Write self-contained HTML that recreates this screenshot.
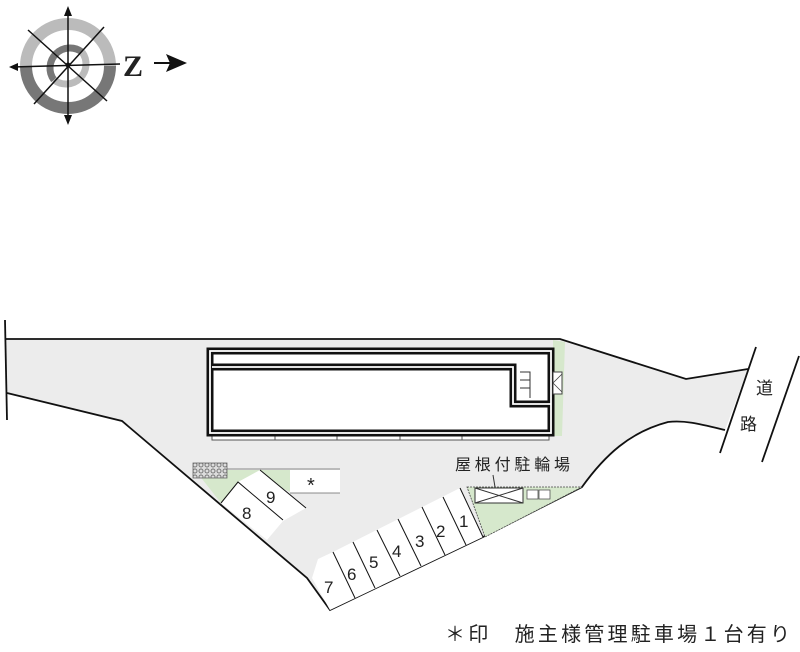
<!DOCTYPE html>
<html><head><meta charset="utf-8"><style>
html,body{margin:0;padding:0;background:#fff;}
svg{display:block;font-family:"Liberation Sans","Noto Sans CJK JP",sans-serif;}
</style></head><body>
<svg width="800" height="652" viewBox="0 0 800 652" xmlns="http://www.w3.org/2000/svg">
<defs>
<pattern id="hatch" width="6" height="6" patternUnits="userSpaceOnUse">
<rect width="6" height="6" fill="#ddd"/><circle cx="3" cy="3" r="2" fill="none" stroke="#777" stroke-width="1"/>
</pattern>
</defs>
<!-- compass -->
<g>
<path d="M26,66 A42,42 0 0 1 110,66" fill="none" stroke="#bbb" stroke-width="12"/>
<path d="M26,66 A42,42 0 0 0 110,66" fill="none" stroke="#777" stroke-width="12"/>
<path d="M54,80 A20,20 0 0 1 82,52" fill="none" stroke="#777" stroke-width="7"/>
<path d="M54,80 A20,20 0 0 0 82,52" fill="none" stroke="#bbb" stroke-width="7"/>
<g stroke="#111" stroke-width="1.5">
<line x1="68" y1="10" x2="68" y2="122"/>
<line x1="12" y1="67" x2="120" y2="64"/>
<line x1="28" y1="30" x2="107" y2="101"/>
<line x1="104" y1="27" x2="34" y2="104"/>
</g>
<polygon points="68,6 64,16 72,16" fill="#111"/>
<polygon points="68,125 64,115 72,115" fill="#111"/>
<polygon points="9,67 18,63 18,71" fill="#111"/>
<circle cx="68" cy="65" r="2.5" fill="#111"/>
<text x="123" y="76" font-family="Liberation Serif,serif" font-weight="bold" font-size="30" fill="#222">Z</text>
<line x1="154" y1="63" x2="172" y2="63" stroke="#111" stroke-width="2"/>
<polygon points="187,63 166,54 170,63 166,72" fill="#111"/>
</g>
<!-- lot -->
<path d="M5,339 L560,339 L686,379 L748,369 L725,430 C700,424 685,420 668,422 C630,432 605,455 582,487 L483,537 L330,610 L307,578 L122,421 L7,393 Z" fill="#ececec"/>
<path d="M5,339 L560,339 L686,379 L748,369 M725,430 C700,424 685,420 668,422 C630,432 605,455 582,487 L483,537 L330,610 L307,578 L122,421 L7,393" fill="none" stroke="#111" stroke-width="1.8"/>
<line x1="5" y1="320" x2="7" y2="420" stroke="#111" stroke-width="1.8"/>
<!-- road -->
<line x1="756" y1="347" x2="720" y2="453" stroke="#111" stroke-width="1.8"/>
<line x1="799" y1="356" x2="762" y2="462" stroke="#111" stroke-width="1.8"/>
<text x="756" y="394" font-size="17" fill="#222">道</text>
<text x="740" y="430" font-size="17" fill="#222">路</text>
<!-- greens -->
<polygon points="553,340 565,342 562,436 553,436" fill="#d6e8cc"/>
<polygon points="467,487 582,487 485,537" fill="#d6e8cc" stroke="#444" stroke-width="0.8" stroke-dasharray="2,1"/>
<polygon points="195,470 290,470 290,492 265,480 238,482 221,503" fill="#d6e8cc"/>
<!-- building -->
<rect x="212" y="432" width="337" height="8" fill="#fff" stroke="#555" stroke-width="1"/>
<g stroke="#555" stroke-width="1"><line x1="275" y1="432" x2="275" y2="440"/><line x1="337" y1="432" x2="337" y2="440"/><line x1="400" y1="432" x2="400" y2="440"/><line x1="462" y1="432" x2="462" y2="440"/></g>
<rect x="210" y="351" width="341" height="82" fill="#fff"/>
<g fill="none" stroke="#111" stroke-width="7" stroke-linejoin="miter">
<rect x="210" y="351" width="341" height="82"/>
<path d="M212,367 L513,367 L513,404 L551,404"/>
</g>
<g fill="none" stroke="#fff" stroke-width="1.8">
<rect x="210" y="351" width="341" height="82"/>
<path d="M212,367 L513,367 L513,404 L551,404"/>
</g>
<g stroke="#333" stroke-width="1" fill="none"><path d="M520,372 L530,372 L530,398 M520,380 L530,380 M520,388 L530,388"/></g>
<rect x="553" y="372" width="9" height="22" fill="#fff" stroke="#444" stroke-width="1"/>
<path d="M553,383 L562,374 M553,383 L562,392" stroke="#444" stroke-width="0.8"/>
<!-- parking 1-7 -->
<polygon points="460,488 483,537 330,610 312,578 318,559 333,552" fill="#fff"/>
<g stroke="#111" stroke-width="1">
<line x1="460" y1="488" x2="483" y2="537"/>
<line x1="443" y1="497" x2="466" y2="545"/>
<line x1="422" y1="507" x2="445" y2="555"/>
<line x1="398" y1="519" x2="421" y2="566"/>
<line x1="377" y1="530" x2="400" y2="576"/>
<line x1="353" y1="542" x2="375" y2="588"/>
<line x1="333" y1="552" x2="355" y2="598"/>
</g>
<g font-size="17" fill="#222">
<text x="459" y="527">1</text><text x="436" y="537">2</text><text x="415" y="547">3</text><text x="392" y="557">4</text><text x="369" y="568">5</text><text x="347" y="580">6</text><text x="324" y="593">7</text>
</g>
<!-- parking 8,9 -->
<polygon points="221,503 238,482 260,470 306,508 283,521 267,540" fill="#fff"/>
<g stroke="#111" stroke-width="1" fill="none">
<polyline points="221,503 238,482 283,520"/>
<line x1="260" y1="470" x2="306" y2="508"/>
</g>
<text x="242" y="519" font-size="17" fill="#222">8</text>
<text x="266" y="503" font-size="17" fill="#222">9</text>
<rect x="193" y="463" width="34" height="15" fill="url(#hatch)" stroke="#666" stroke-width="0.8"/>
<rect x="290" y="470" width="50" height="23" fill="#fff"/>
<line x1="227" y1="469" x2="340" y2="469" stroke="#666" stroke-width="0.8"/>
<line x1="290" y1="493" x2="340" y2="493" stroke="#666" stroke-width="0.8"/>
<text x="307" y="492" font-size="20" fill="#222">*</text>
<!-- bike parking -->
<text x="455" y="470" font-size="16" fill="#222" textLength="115">屋根付駐輪場</text>
<line x1="493" y1="475" x2="495" y2="487" stroke="#333" stroke-width="1"/>
<rect x="475" y="488" width="48" height="15" fill="#fff" stroke="#333" stroke-width="1"/>
<path d="M475,488 L523,503 M523,488 L475,503" stroke="#333" stroke-width="1"/>
<rect x="527" y="490" width="11" height="9" fill="#fff" stroke="#555" stroke-width="0.8"/>
<rect x="539" y="490" width="11" height="9" fill="#fff" stroke="#555" stroke-width="0.8"/>
<!-- footer -->
<text x="445" y="641" font-size="20" fill="#222" textLength="345">＊印　施主様管理駐車場１台有り</text>
</svg>
</body></html>
